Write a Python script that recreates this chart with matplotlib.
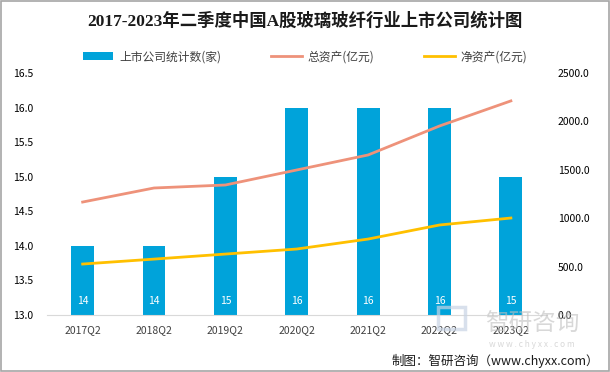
import matplotlib
matplotlib.use("Agg")
import matplotlib.pyplot as plt
from matplotlib.patches import Rectangle

plt.rcParams['font.family'] = ['Noto Sans CJK SC', 'DejaVu Sans']

categories = ["2017Q2", "2018Q2", "2019Q2", "2020Q2", "2021Q2", "2022Q2", "2023Q2"]
companies = [14, 14, 15, 16, 16, 16, 15]
total_assets = [1167, 1312, 1343, 1498, 1653, 1952, 2211]
net_assets = [527, 578, 630, 682, 785, 930, 1002]

left_ticks = [13.0, 13.5, 14.0, 14.5, 15.0, 15.5, 16.0, 16.5]
right_ticks = [0, 500, 1000, 1500, 2000, 2500]

blue = "#00A3DA"
salmon = "#EE927A"
yellow = "#FFC000"

fig = plt.figure(figsize=(6.1, 3.72), dpi=100)
fig.patches.append(Rectangle((0.001, 0.002), 0.997, 0.995, transform=fig.transFigure,
                             fill=False, edgecolor="#A6A6A6", linewidth=1.2))

ax = fig.add_axes([0.077, 0.153, 0.819, 0.651])
x = list(range(len(categories)))
bars = ax.bar(x, companies, width=0.32, color=blue, label="上市公司统计数(家)", zorder=2)
ax.set_ylim(13.0, 16.5)
ax.set_yticks(left_ticks)
ax.set_yticklabels([f"{t:.1f}" for t in left_ticks], fontsize=7.5)
ax.set_xlim(-0.5, len(categories) - 0.5)
ax.set_xticks(x)
ax.set_xticklabels(categories, fontsize=7.5, color="#404040")
for s in ["top", "right", "left"]:
    ax.spines[s].set_visible(False)
ax.spines["bottom"].set_color("#D9D9D9")
ax.tick_params(axis="both", length=0)
ax.tick_params(axis="x", pad=7)
ax.tick_params(axis="y", pad=10)
for xi, v in zip(x, companies):
    ax.text(xi, 13.2, str(v), ha="center", va="center", color="white", fontsize=7.5, zorder=3)

ax2 = ax.twinx()
ax2.plot(x, total_assets, color=salmon, linewidth=2, label="总资产(亿元)", zorder=3)
ax2.plot(x, net_assets, color=yellow, linewidth=2, label="净资产(亿元)", zorder=3)
ax2.set_ylim(0, 2500)
ax2.set_yticks(right_ticks)
ax2.set_yticklabels([f"{t:.1f}" for t in right_ticks], fontsize=7.5)
for s in ["top", "right", "left", "bottom"]:
    ax2.spines[s].set_visible(False)
ax2.tick_params(axis="y", length=0, pad=8)

h1, l1 = ax.get_legend_handles_labels()
h2, l2 = ax2.get_legend_handles_labels()
fig.legend(h1 + h2, l1 + l2, loc="center", bbox_to_anchor=(0.5, 0.848), ncol=3,
           frameon=False, fontsize=8.5, handlelength=2.6, handleheight=0.6,
           columnspacing=4.2, handletextpad=0.5, labelcolor="#404040")

fig.text(0.5, 0.945, "2017-2023年二季度中国A股玻璃玻纤行业上市公司统计图", ha="center", va="center",
         fontsize=12.5, fontweight="bold", color="#1a1a1a",
         family=['Liberation Serif', 'Noto Sans CJK SC'])

# watermark
fig.patches.append(Rectangle((0.718, 0.115), 0.045, 0.06, transform=fig.transFigure,
                             fill=False, edgecolor="#C8D4E4", linewidth=2.5, alpha=0.7))
fig.text(0.872, 0.128, "智研咨询", ha="center", va="center", fontsize=17, color="#BFBFBF", alpha=0.6)
fig.text(0.872, 0.073, "w w w . c h y x x . c o m", ha="center", va="center", fontsize=6, color="#BFBFBF", alpha=0.6)
fig.text(0.982, 0.03, "制图：智研咨询（www.chyxx.com）", ha="right", va="center", fontsize=9, color="#1a1a1a")

fig.savefig("out.png", dpi=100)
